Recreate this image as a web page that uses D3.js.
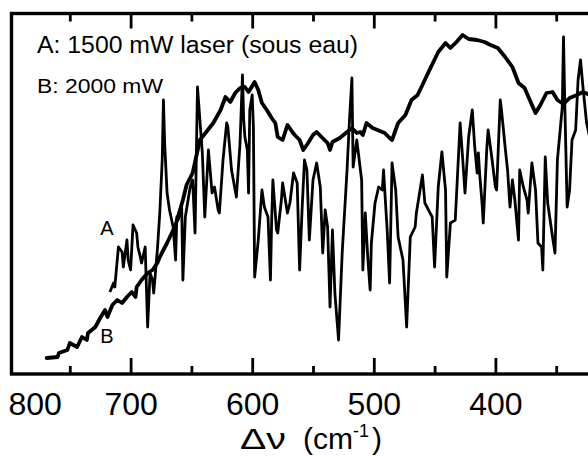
<!DOCTYPE html>
<html>
<head>
<meta charset="utf-8">
<script src="https://cdn.jsdelivr.net/npm/d3@7"></script>
<style>
  body { margin: 0; background: #fff; }
  svg { display: block; font-family: "Liberation Sans", Arial, sans-serif; }
</style>
</head>
<body>
<svg width="588" height="456"></svg>
<script>
// raman shift (cm-1) tick values
var majorTicks = [800, 700, 600, 500, 400];
var minorTicks = [750, 650, 550, 450, 350];

var legendLines = ["A: 1500 mW laser (sous eau)", "B: 2000 mW"];

// [raman shift cm-1, intensity a.u.]
var curveA = [
  [717,83],[714,92],[713,88],[710,128],[707,123],[706,108],[703,135],[702,115],[700,105],[698,150],
  [695,142],[694,128],[692,118],[691,112],[688,128],[686,48],[684,102],[682,95],[681,82],[678,125],
  [676,162],[674,215],[673,275],[672,232],[670,182],[668,165],[665,148],[663,115],[662,158],[661,155],
  [658,168],[657,95],[655,158],[651,188],[649,195],[647,142],[645,288],[643,255],[641,222],[639,158],
  [636,225],[633,182],[631,188],[628,165],[627,162],[624,215],[621,252],[620,248],[617,205],[613,178],
  [610,232],[608,300],[607,255],[606,238],[604,225],[603,182],[602,265],[600,280],[599,248],[598,98],
  [595,135],[592,185],[590,168],[587,158],[585,95],[584,155],[583,195],[580,145],[579,142],[576,175],
  [575,192],[571,162],[569,172],[566,202],[563,192],[561,105],[559,165],[557,215],[555,205],[553,135],
  [550,195],[547,212],[544,188],[542,122],[540,165],[538,148],[536,68],[534,145],[532,82],[529,35],
  [526,122],[522,205],[520,255],[518,297],[517,208],[514,235],[510,195],[509,105],[507,162],[505,118],
  [503,85],[502,132],[499,172],[496,188],[493,185],[492,205],[489,145],[487,92],[485,212],[482,185],
  [480,138],[476,115],[473,48],[470,138],[466,148],[465,162],[460,200],[458,172],[455,165],[452,158],
  [450,108],[447,188],[444,223],[441,185],[440,98],[437,152],[433,155],[429,252],[427,218],[425,182],
  [422,238],[419,265],[417,228],[415,202],[414,222],[413,202],[411,172],[410,152],[407,228],[406,245],
  [403,218],[400,188],[399,185],[396,275],[395,265],[392,228],[390,205],[388,168],[386,195],[384,175],
  [381,135],[380,205],[377,188],[374,175],[373,162],[370,212],[367,185],[365,132],[362,128],[361,105],
  [359,218],[357,172],[353,138],[351,122],[349,215],[345,268],[344,338],[343,275],[341,168],[339,185],
  [337,235],[334,245],[332,295],[330,315],[328,288],[325,252],[322,235]
];

var curveB = [
  [769,17],[760,18],[759,22],[752,25],[750,32],[744,28],[740,38],[736,35],[735,42],[729,48],
  [725,57],[721,65],[719,58],[715,70],[711,75],[707,72],[703,78],[699,83],[696,78],[695,88],
  [691,95],[686,102],[682,105],[678,112],[676,118],[673,125],[670,132],[663,150],[657,175],[654,190],
  [649,202],[643,235],[632,252],[626,265],[622,278],[618,273],[614,282],[610,287],[606,288],[603,283],
  [598,293],[595,285],[592,272],[588,265],[584,257],[581,252],[579,238],[575,235],[571,250],[567,243],
  [565,240],[561,235],[558,225],[554,232],[550,240],[547,243],[543,238],[538,232],[536,225],[534,233],
  [528,237],[522,243],[518,247],[514,242],[511,243],[509,240],[506,252],[501,247],[497,245],[491,242],
  [487,237],[485,235],[480,252],[474,260],[469,275],[464,280],[460,290],[455,303],[451,313],[447,323],
  [441,332],[437,327],[432,333],[427,340],[422,336],[415,335],[409,333],[404,330],[398,327],[392,318],
  [386,308],[381,292],[376,287],[371,273],[367,262],[363,270],[358,282],[353,283],[349,275],[344,271],
  [339,277],[333,280],[328,283],[322,280]
];

var svg = d3.select("svg"),
    width = +svg.attr("width"),
    height = +svg.attr("height");

var frame = {left: 11.5, top: 13.5, right: 640, bottom: 374};

var x = d3.scaleLinear().domain([800, 300]).range([9, 617]);
var y = d3.scaleLinear().domain([0, 362]).range([375, 13]);

// box
svg.append("rect")
   .attr("x", frame.left)
   .attr("y", frame.top)
   .attr("width", frame.right - frame.left)
   .attr("height", frame.bottom - frame.top)
   .attr("fill", "none")
   .attr("stroke", "#000")
   .attr("stroke-width", 3.4);

// inward ticks, bottom and top
function tickAxis(axis, values, size, ty) {
    var g = svg.append("g")
               .attr("transform", "translate(0," + ty + ")")
               .call(axis(x).tickValues(values).tickSize(size).tickSizeOuter(0).tickFormat(""));
    g.select(".domain").remove();
    g.selectAll(".tick line").attr("stroke", "#000").attr("stroke-width", 2.8);
}
tickAxis(d3.axisBottom, majorTicks.slice(1), -16, frame.bottom);
tickAxis(d3.axisBottom, minorTicks, -8, frame.bottom);
tickAxis(d3.axisTop, majorTicks.slice(1), -15, frame.top);
tickAxis(d3.axisTop, minorTicks, -8, frame.top);

// labels under the bottom axis
var labels = svg.append("g")
                .attr("transform", "translate(0," + frame.bottom + ")")
                .call(d3.axisBottom(x).tickValues(majorTicks).tickSize(0).tickPadding(18).tickFormat(d3.format("d")));
labels.select(".domain").remove();
labels.selectAll("text")
      .attr("font-family", "Liberation Sans, Arial, sans-serif")
      .attr("font-size", 32)
      .attr("fill", "#000")
      .filter(function(d) { return d === 800; })
      .attr("text-anchor", "start")
      .attr("dx", -1);

// axis title
svg.append("text")
   .attr("x", 240)
   .attr("y", 449)
   .attr("font-size", 30)
   .attr("textLength", 46)
   .attr("lengthAdjust", "spacingAndGlyphs")
   .text("Δν");

var unit = svg.append("text")
              .attr("x", 303)
              .attr("y", 449)
              .attr("font-size", 30);
unit.append("tspan").text("(cm");
unit.append("tspan").attr("font-size", 18).attr("dy", -12).text("-1");
unit.append("tspan").attr("dy", 12).attr("dx", 3).text(")");

// legend
svg.selectAll("text.legend")
   .data(legendLines)
   .enter().append("text")
   .attr("class", "legend")
   .attr("x", 37)
   .attr("y", function(d, i) { return i === 0 ? 53 : 93; })
   .attr("font-size", function(d, i) { return i === 0 ? 23 : 20; })
   .attr("textLength", function(d, i) { return i === 0 ? 321 : 126; })
   .attr("lengthAdjust", "spacingAndGlyphs")
   .text(function(d) { return d; });

// curves
var line = d3.line()
             .x(function(d) { return x(d[0]); })
             .y(function(d) { return y(d[1]); });

svg.append("path")
   .datum(curveA)
   .attr("d", line)
   .attr("fill", "none")
   .attr("stroke", "#000")
   .attr("stroke-width", 2.8)
   .attr("stroke-linejoin", "round");

svg.append("path")
   .datum(curveB)
   .attr("d", line)
   .attr("fill", "none")
   .attr("stroke", "#000")
   .attr("stroke-width", 3.8)
   .attr("stroke-linejoin", "round")
   .attr("stroke-linecap", "round");

// curve names
svg.append("text").attr("x", x(725)).attr("y", y(140)).attr("font-size", 20).text("A");
svg.append("text").attr("x", x(725)).attr("y", y(32)).attr("font-size", 20).text("B");
</script>
</body>
</html>
